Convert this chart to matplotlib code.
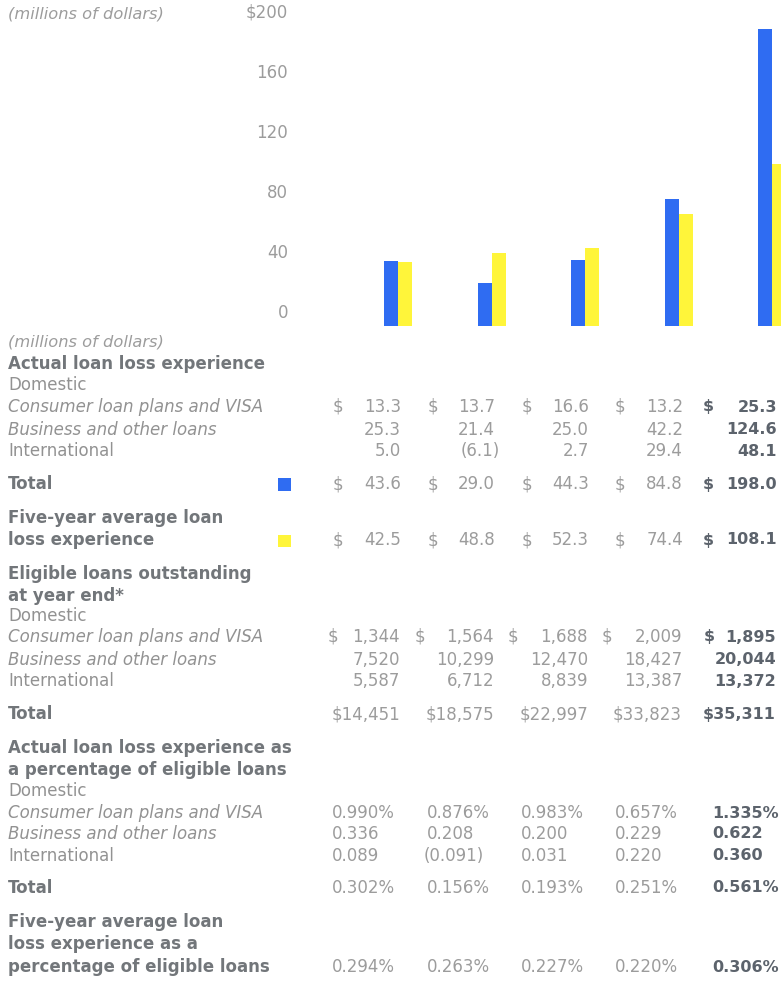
import matplotlib
matplotlib.use("Agg")
import matplotlib.pyplot as plt
from matplotlib.transforms import ScaledTranslation, blended_transform_factory

# Loan loss figures, five years (oldest first)
actual_consumer = [13.3, 13.7, 16.6, 13.2, 25.3]
actual_business = [25.3, 21.4, 25.0, 42.2, 124.6]
actual_intl = [5.0, -6.1, 2.7, 29.4, 48.1]
actual_total = [43.6, 29.0, 44.3, 84.8, 198.0]
avg_loss = [42.5, 48.8, 52.3, 74.4, 108.1]

elig_consumer = [1344, 1564, 1688, 2009, 1895]
elig_business = [7520, 10299, 12470, 18427, 20044]
elig_intl = [5587, 6712, 8839, 13387, 13372]
elig_total = [14451, 18575, 22997, 33823, 35311]

pct_consumer = [0.990, 0.876, 0.983, 0.657, 1.335]
pct_business = [0.336, 0.208, 0.200, 0.229, 0.622]
pct_intl = [0.089, -0.091, 0.031, 0.220, 0.360]
pct_total = [0.302, 0.156, 0.193, 0.251, 0.561]
pct_avg = [0.294, 0.263, 0.227, 0.220, 0.306]

y_ticks = [0, 40, 80, 120, 160, 200]
y_tick_labels = ["0", "40", "80", "120", "160", "$200"]

BLUE = "#2f6cf2"
YELLOW = "#fff53a"
GREY = "#9c9c9c"
LABEL = "#929292"
HEAD = "#72767a"
BOLD_NUM = "#5c636c"

W, H = 781, 981
DPI = 100
plt.rcParams["font.family"] = ["DejaVu Sans"]
FS = 12
NUM_FS = 12
BOLD_NUM_FS = 11.5

fig = plt.figure(figsize=(W / DPI, H / DPI), dpi=DPI)
fig.patch.set_facecolor("white")


def fx(px):
    return px / W


def fy(py):
    return 1 - py / H


def put(x, y, s, ha="left", color=LABEL, weight="normal", style="normal", size=FS):
    fig.text(fx(x), fy(y), s, ha=ha, va="center", color=color,
             fontweight=weight, fontstyle=style, fontsize=size)


# ---- bar chart ----
ax = fig.add_axes([fx(290), fy(326), fx(781) - fx(290), 300 / H])
ax.set_ylim(0, 200)
step = 93.5
ax.set_xlim((290 - 398) / step, (781 - 398) / step)
bw = 14 / step
xs = list(range(len(actual_total)))
ax.bar([x - bw / 2 for x in xs], actual_total, width=bw, color=BLUE, linewidth=0)
ax.bar([x + bw / 2 for x in xs], avg_loss, width=bw, color=YELLOW, linewidth=0)
ax.axis("off")

lab_tr = blended_transform_factory(ax.transAxes, ax.transData) + \
    ScaledTranslation(-2 / DPI, 13 / DPI, fig.dpi_scale_trans)
for v, s in zip(y_ticks, y_tick_labels):
    ax.text(0, v, s, transform=lab_tr, ha="right", va="center",
            color=GREY, fontsize=FS)

put(8, 14, "(millions of dollars)", style="italic", color=GREY, size=11.7)

# ---- table ----
dollar_x = [333, 428, 522, 615, 703]
right_x = [401, 495, 589, 683, 777]
elig_dollar_x = [328, 415, 508, 602, 704]
pct_left = [332, 427, 521, 615, 712]


def num_style(i):
    if i == 4:
        return dict(color=BOLD_NUM, weight="bold", size=BOLD_NUM_FS)
    return dict(color=GREY, size=NUM_FS)


def money_row(y, vals, dollar=False):
    for i, v in enumerate(vals):
        st = num_style(i)
        if v < 0:
            put(right_x[i] + 5, y, f"({abs(v):.1f})", ha="right", **st)
        else:
            put(right_x[i], y, f"{v:.1f}", ha="right", **st)
        if dollar:
            put(dollar_x[i], y, "$", **st)


def count_row(y, vals, dollar=False, joined=False):
    for i, v in enumerate(vals):
        st = num_style(i)
        if joined:
            put(right_x[i] - 1, y, f"${v:,}", ha="right", **st)
        else:
            put(right_x[i] - 1, y, f"{v:,}", ha="right", **st)
            if dollar:
                put(elig_dollar_x[i], y, "$", **st)


def pct_row(y, vals, pct=False):
    for i, v in enumerate(vals):
        st = num_style(i)
        s = f"{abs(v):.3f}" + ("%" if pct else "")
        if v < 0:
            put(pct_left[i] - 3, y, f"({s})", **st)
        else:
            put(pct_left[i], y, s, **st)


put(8, 342, "(millions of dollars)", style="italic", color=GREY, size=11.7)
put(8, 364, "Actual loan loss experience", weight="bold", color=HEAD)
put(8, 385, "Domestic")
put(8, 407, "Consumer loan plans and VISA", style="italic")
put(8, 430, "Business and other loans", style="italic")
put(8, 451, "International")
put(8, 484, "Total", weight="bold", color=HEAD)
put(8, 518, "Five-year average loan", weight="bold", color=HEAD)
put(8, 540, "loss experience", weight="bold", color=HEAD)

money_row(407, actual_consumer, dollar=True)
money_row(430, actual_business)
money_row(451, actual_intl)
money_row(484, actual_total, dollar=True)
money_row(540, avg_loss, dollar=True)

# legend swatches next to the rows they key
fig.patches.append(plt.Rectangle((fx(278), fy(491)), 13 / W, 13 / H,
                                 transform=fig.transFigure, color=BLUE, linewidth=0))
fig.patches.append(plt.Rectangle((fx(278), fy(547)), 13 / W, 12 / H,
                                 transform=fig.transFigure, color=YELLOW, linewidth=0))

put(8, 574, "Eligible loans outstanding", weight="bold", color=HEAD)
put(8, 596, "at year end*", weight="bold", color=HEAD)
put(8, 616, "Domestic")
put(8, 637, "Consumer loan plans and VISA", style="italic")
put(8, 660, "Business and other loans", style="italic")
put(8, 681, "International")
put(8, 714, "Total", weight="bold", color=HEAD)

count_row(637, elig_consumer, dollar=True)
count_row(660, elig_business)
count_row(681, elig_intl)
count_row(714, elig_total, joined=True)

put(8, 748, "Actual loan loss experience as", weight="bold", color=HEAD)
put(8, 770, "a percentage of eligible loans", weight="bold", color=HEAD)
put(8, 791, "Domestic")
put(8, 813, "Consumer loan plans and VISA", style="italic")
put(8, 834, "Business and other loans", style="italic")
put(8, 856, "International")
put(8, 888, "Total", weight="bold", color=HEAD)
put(8, 922, "Five-year average loan", weight="bold", color=HEAD)
put(8, 944, "loss experience as a", weight="bold", color=HEAD)
put(8, 967, "percentage of eligible loans", weight="bold", color=HEAD)

pct_row(813, pct_consumer, pct=True)
pct_row(834, pct_business)
pct_row(856, pct_intl)
pct_row(888, pct_total, pct=True)
pct_row(967, pct_avg, pct=True)

fig.savefig("out.png", dpi=DPI, facecolor="white")
